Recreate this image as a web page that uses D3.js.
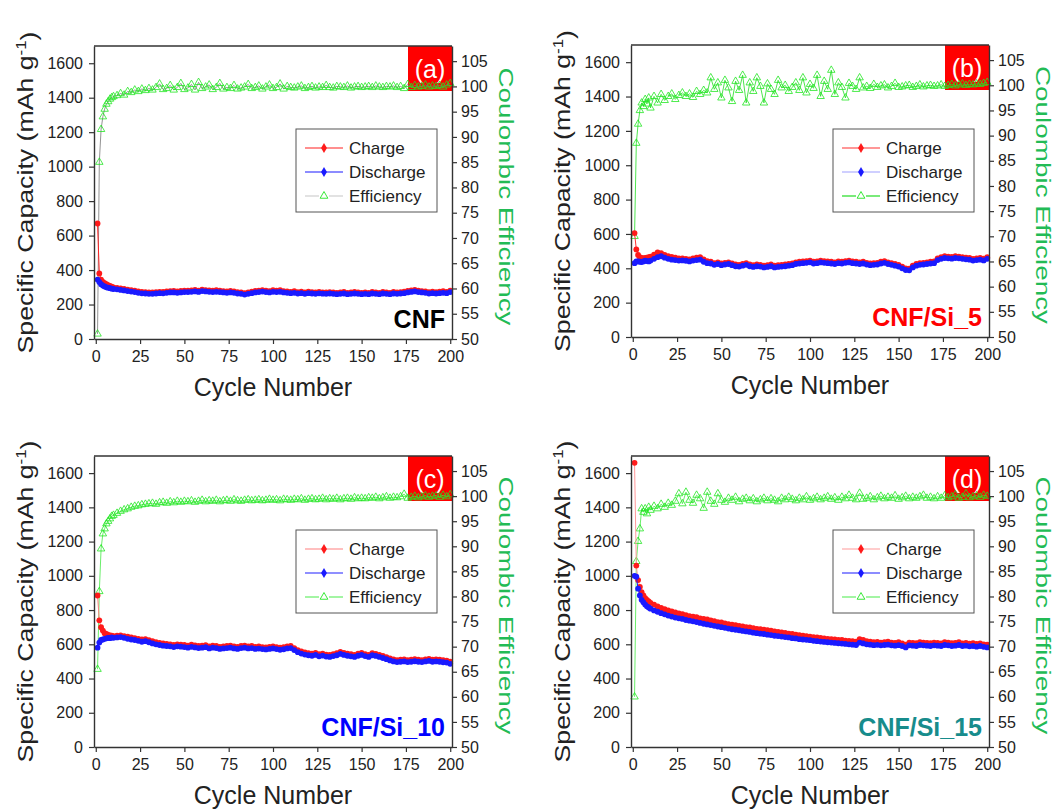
<!DOCTYPE html>
<html>
<head>
<meta charset="utf-8">
<script src="https://cdn.jsdelivr.net/npm/d3@7"></script>
<style>
  body { margin: 0; background: #fff; }
  svg text { font-family: 'Liberation Sans', Arial, sans-serif; }
</style>
</head>
<body>
<svg id="chart" width="1056" height="812"></svg>
<script>
// cycle numbers (every cycle up to 10, then every second cycle)
var cycles = [1,2,3,4,5,6,7,8,9,10,
  12,14,16,18,20,22,24,26,28,30, 32,34,36,38,40,42,44,46,48,50,
  52,54,56,58,60,62,64,66,68,70, 72,74,76,78,80,82,84,86,88,90,
  92,94,96,98,100,102,104,106,108,110, 112,114,116,118,120,122,124,126,128,130,
  132,134,136,138,140,142,144,146,148,150, 152,154,156,158,160,162,164,166,168,170,
  172,174,176,178,180,182,184,186,188,190, 192,194,196,198,200];

var capTicks = [0,200,400,600,800,1000,1200,1400,1600];
var effTicks = [50,55,60,65,70,75,80,85,90,95,100,105];
var cycleTicks = [0,25,50,75,100,125,150,175,200];
var legendLabels = ["Charge", "Discharge", "Efficiency"];

// (a) CNF
var chargeA = [670,380,345,332,324,318,312,308,304,300,
  297,294,290,286,283,280,276,273,272,270, 270,272,274,273,276,278,279,276,279,281,
  280,282,285,281,287,284,282,280,283,280, 278,276,279,276,272,270,266,270,275,279,
  281,284,280,278,283,280,283,278,276,274, 277,272,275,270,275,272,270,274,271,270,
  272,270,268,270,273,268,270,273,270,268, 270,268,273,270,268,273,270,268,273,270,
  272,275,279,282,285,281,278,276,272,275, 272,275,277,274,281];
var dischargeA = [345,330,318,310,305,300,298,295,292,290,
  288,285,282,278,275,272,268,265,264,262, 262,264,266,265,268,270,270,268,270,272,
  272,274,276,273,278,276,274,272,274,272, 270,268,270,268,264,262,258,262,266,270,
  272,275,272,270,274,272,274,270,268,266, 268,264,266,262,266,264,262,265,263,262,
  264,262,260,262,264,260,262,264,262,260, 262,260,264,262,260,264,262,260,264,262,
  264,266,270,273,276,272,270,268,264,266, 264,266,268,266,272];
var effA = [51,85,91.5,94,95.5,96.5,97,97.5,97.8,98,
  98.2,98.6,98.3,99,98.8,99.3,99,99.5,99.2,99.6, 99.3,99.8,100.5,99.4,99.6,100.2,99.3,99.8,100.6,99.4,
  99.7,100.4,99.3,100.8,99.6,99.9,100.3,99.4,99.8,100.6, 99.5,99.8,99.6,100.2,99.5,99.7,99.9,100.4,99.6,99.8,
  100.1,99.5,99.9,100.3,99.6,99.8,100.5,99.5,100,99.8, 99.7,99.9,100.1,99.6,99.8,100,99.7,99.9,99.8,100.2,
  99.8,99.7,100,99.9,99.8,100.1,99.7,99.9,100,99.8, 99.9,100,99.8,100.1,99.9,99.8,100,99.9,100.1,99.8,
  100,99.6,100.4,99.8,100.2,99.9,100,100.3,99.9,100.1, 100,100.2,99.9,100.3,100.6];

// (b) CNF/Si_5
var chargeB = [605,510,478,465,460,458,460,462,465,468,
  480,492,488,478,470,466,462,458,458,455, 452,458,462,465,452,442,438,430,435,428,
  432,435,428,422,420,425,430,422,418,422, 420,415,418,422,415,418,420,422,425,428,
  435,438,440,442,445,438,440,444,442,440, 438,435,440,438,442,444,440,438,435,438,
  432,428,430,432,438,442,435,430,425,420, 410,400,398,415,425,430,432,435,438,440,
  458,465,470,468,466,470,468,465,462,460, 455,458,460,456,465];
var dischargeB = [430,440,440,438,436,440,445,442,440,445,
  455,465,470,462,455,450,448,445,446,444, 440,445,448,450,438,430,428,420,425,418,
  422,425,418,412,410,415,420,412,408,412, 410,405,408,412,405,408,410,412,415,418,
  425,428,430,432,435,428,430,434,432,430, 428,425,430,428,432,434,430,428,425,428,
  422,418,420,422,428,432,425,420,415,410, 400,390,388,405,415,420,422,425,428,430,
  448,455,460,458,456,460,458,455,452,450, 445,448,450,446,455];
var effB = [70,88.5,92.3,95,96.5,95.8,97.2,96.3,97.5,95.5,
  97.8,96.5,98.2,97,97.8,98.3,97.2,98,98.5,97.8, 98.3,97.6,98.8,98.2,99,98.5,101.5,99.2,100.5,97.5,
  101,99.5,96.8,100.8,99,102,96.5,100.5,98.8,101.5, 99.8,96.5,100.3,99.2,98.2,101,99.5,100,98.8,99.6,
  100.5,99,101.5,98.5,100.2,99.4,102,97.8,100.8,99.2, 103,98.2,100.5,99.6,97.5,100.4,99.8,99.2,101.5,99.5,
  99.8,99.4,100.2,99.6,99.9,100.1,99.5,99.8,100.4,99.6, 99.7,99.9,100,99.6,99.8,100.1,99.7,99.9,100,99.8,
  99.9,100.1,99.8,100,100.2,99.9,100.1,100.3,100,100.2, 100.1,100.3,100.2,100.4,100.6];

// (c) CNF/Si_10
var chargeC = [885,740,700,680,665,660,655,652,650,648,
  650,652,648,645,640,636,632,628,630,624, 618,612,608,605,602,600,596,600,598,596,
  592,598,594,590,592,595,588,592,590,585, 588,590,592,588,585,590,592,588,590,585,
  588,584,582,585,588,584,580,583,588,590, 578,566,558,552,548,545,550,542,546,540,
  538,543,548,556,550,545,542,538,545,550, 543,538,548,544,538,532,525,518,512,508,
  510,512,508,510,513,510,508,512,515,510, 512,510,507,505,498];
var dischargeC = [580,610,625,628,632,635,638,636,640,638,
  640,642,638,632,628,625,620,615,618,612, 605,600,596,592,590,588,584,588,586,584,
  580,585,582,578,580,583,576,580,578,573, 576,578,580,576,573,578,580,576,578,573,
  575,572,570,573,576,572,568,571,576,578, 566,554,546,540,536,533,538,530,534,528,
  526,531,536,544,538,533,530,526,533,538, 531,526,536,532,526,520,513,506,500,496,
  498,500,496,498,501,498,496,500,503,498, 500,498,495,493,486];
var effC = [65.5,81,89.5,92.5,93.5,94.5,95,95.5,96,96.2,
  96.6,97,97.3,97.5,97.8,98,98.1,98.3,98.4,98.5, 98.6,98.4,98.7,98.8,98.6,98.9,98.7,99,98.8,99,
  98.9,99.1,98.8,99,99.2,98.9,99.1,99,99.2,98.9, 99.1,99.2,99,99.3,99.1,99,99.2,99.3,99.1,99.2,
  99.3,99.1,99.2,99.4,99.2,99.3,99.1,99.4,99.3,99.2, 99.4,99.3,99.5,99.2,99.4,99.5,99.3,99.4,99.6,99.3,
  99.5,99.4,99.6,99.3,99.5,99.6,99.4,99.7,99.5,99.6, 99.5,99.7,99.6,99.8,99.5,99.7,99.9,99.6,99.8,99.7,
  99.9,100.4,99.6,99.8,100,99.7,99.9,100.1,99.8,100, 100.1,99.8,100.2,99.9,100.3];

// (d) CNF/Si_15
var chargeD = [1660,1060,975,935,905,885,870,860,850,842,
  832,822,812,805,798,792,786,780,776,770, 765,762,758,752,748,745,740,735,730,728,
  722,718,715,712,708,705,700,698,695,690, 688,685,682,680,676,672,670,666,662,660,
  656,654,650,648,645,642,640,638,635,632, 630,628,626,625,622,620,618,615,630,625,
  618,615,612,614,610,612,615,610,608,612, 605,598,610,608,606,612,610,608,606,610,
  608,605,612,610,606,608,612,605,608,604, 606,602,605,600,598];
var dischargeD = [1000,995,925,885,860,845,832,822,815,808,
  798,790,782,775,768,762,756,752,748,742, 738,734,730,725,720,716,712,708,704,700,
  696,692,688,685,682,678,675,672,668,665, 662,660,656,654,650,648,645,642,640,636,
  634,630,628,626,624,620,618,616,614,612, 610,608,606,604,602,600,598,596,610,605,
  600,598,595,597,594,596,598,594,592,595, 590,582,594,592,590,596,594,592,590,594,
  592,590,596,594,590,592,596,590,592,588, 590,586,590,585,582];
var effD = [60,87,91,93.5,97.5,96.8,97.5,96.5,97.8,97.2,
  98,97.5,98.4,97.8,98.6,98.2,99,100.5,98.5,100.8, 99.2,98.6,100.2,99.5,97.6,100.8,99,98.4,100.5,99.2,
  98.8,99.6,99.2,99.8,98.9,99.4,99.6,99.1,99.5,98.9, 99.3,99.6,99.1,99.5,99.2,98.9,99.6,99.3,99.8,99.4,
  99.1,99.6,99.3,99.9,99.2,99.5,99.8,99.3,99.6,99.9, 99.4,99.7,99.2,99.8,99.5,100.2,99.6,99.3,100.6,99.4,
  99.6,99.9,99.3,99.7,100,99.5,99.8,99.6,100.1,99.4, 99.7,100,99.5,99.8,99.6,99.9,100.2,99.6,99.8,99.5,
  99.9,99.6,100.1,99.7,99.9,100.3,99.6,99.8,100.5,99.7, 99.9,100.1,99.8,100.2,100];

var panels = [
  { tag: "(a)", name: "CNF", nameColor: "#000", left: 94, top: 46, right: 452, bottom: 339, legendTop: 83,
    charge: chargeA, discharge: dischargeA, eff: effA,
    chargeLine: "#ff2020", dischargeLine: "#1a1aff", effLine: "#777", legendEffLine: "#cfcfcf" },
  { tag: "(b)", name: "CNF/Si_5", nameColor: "#ff0000", left: 631, top: 45, right: 989, bottom: 337, legendTop: 84,
    charge: chargeB, discharge: dischargeB, eff: effB,
    chargeLine: "#ff3030", dischargeLine: "#a0a0ff", effLine: "#22dd22", legendEffLine: "#22dd22" },
  { tag: "(c)", name: "CNF/Si_10", nameColor: "#0000ff", left: 94, top: 456, right: 452, bottom: 747, legendTop: 74,
    charge: chargeC, discharge: dischargeC, eff: effC,
    chargeLine: "#ff8080", dischargeLine: "#2020ff", effLine: "#44e844", legendEffLine: "#66ee66" },
  { tag: "(d)", name: "CNF/Si_15", nameColor: "#178c8c", left: 631, top: 456, right: 989, bottom: 747, legendTop: 74,
    charge: chargeD, discharge: dischargeD, eff: effD,
    chargeLine: "#ff9999", dischargeLine: "#1a1aff", effLine: "#44e844", legendEffLine: "#66ee66" }
];

var RED = "#ff1a1a", BLUE = "#1a1aff", GREEN = "#22e622", AXIS = "#333";
var svg = d3.select("#chart");
svg.append("rect").attr("width", 1056).attr("height", 812).attr("fill", "#fff");

function series(vals) {
  return cycles.map(function(c, i) { return { c: c, v: vals[i] }; })
               .filter(function(d) { return d.v != null; });
}

function styleAxis(g) {
  g.select(".domain").attr("stroke", AXIS).attr("stroke-width", 1.4);
  g.selectAll(".tick line").attr("stroke", AXIS).attr("stroke-width", 1.2);
  g.selectAll(".tick text").attr("fill", "#222").attr("font-size", 16)
    .style("font-family", "'Liberation Sans', Arial, sans-serif");
}

function drawPanel(p) {
  var g = svg.append("g");
  var x = d3.scaleLinear().domain([-1, 201]).range([p.left, p.right]);
  var yL = d3.scaleLinear().domain([0, 1700]).range([p.bottom, p.top]);
  var yR = d3.scaleLinear().domain([50, 108]).range([p.bottom, p.top]);

  // red tag box
  g.append("rect").attr("x", p.right - 44).attr("y", p.top).attr("width", 44).attr("height", 45).attr("fill", "#ff0000");
  g.append("text").attr("x", p.right - 22).attr("y", p.top + 32).attr("text-anchor", "middle")
    .attr("fill", "#fff").attr("font-size", 25).text(p.tag);

  // efficiency
  var eff = series(p.eff);
  g.append("path").datum(eff).attr("fill", "none").attr("stroke", p.effLine).attr("stroke-width", 0.8)
    .attr("d", d3.line().x(function(d) { return x(d.c); }).y(function(d) { return yR(d.v); }));
  var tri = d3.symbol().type(d3.symbolTriangle).size(24);
  g.append("g").selectAll("path").data(eff).enter().append("path")
    .attr("d", tri).attr("transform", function(d) { return "translate(" + x(d.c) + "," + yR(d.v) + ")"; })
    .attr("fill", "none").attr("stroke", GREEN).attr("stroke-width", 0.8);

  // charge / discharge
  [[p.charge, p.chargeLine, RED], [p.discharge, p.dischargeLine, BLUE]].forEach(function(s) {
    var data = series(s[0]);
    g.append("path").datum(data).attr("fill", "none").attr("stroke", s[1]).attr("stroke-width", 1)
      .attr("d", d3.line().x(function(d) { return x(d.c); }).y(function(d) { return yL(d.v); }));
    g.append("g").selectAll("circle").data(data).enter().append("circle")
      .attr("cx", function(d) { return x(d.c); }).attr("cy", function(d) { return yL(d.v); })
      .attr("r", 2.9).attr("fill", s[2]);
  });

  // axes
  var ax = g.append("g").attr("transform", "translate(0," + p.bottom + ")")
    .call(d3.axisBottom(x).tickValues(cycleTicks).tickSize(5).tickSizeOuter(0).tickPadding(7));
  styleAxis(ax);
  var ayl = g.append("g").attr("transform", "translate(" + p.left + ",0)")
    .call(d3.axisLeft(yL).tickValues(capTicks).tickFormat(d3.format("d")).tickSize(5).tickSizeOuter(0).tickPadding(6));
  styleAxis(ayl);
  var ayr = g.append("g").attr("transform", "translate(" + p.right + ",0)")
    .call(d3.axisRight(yR).tickValues(effTicks).tickSize(5).tickSizeOuter(0).tickPadding(4));
  styleAxis(ayr);
  g.append("line").attr("x1", p.left).attr("x2", p.right).attr("y1", p.top).attr("y2", p.top)
    .attr("stroke", AXIS).attr("stroke-width", 1.4);

  // axis titles
  g.append("text").attr("x", (p.left + p.right) / 2).attr("y", p.bottom + 57).attr("text-anchor", "middle")
    .attr("font-size", 25).attr("fill", "#222").text("Cycle Number");
  var yt = g.append("text").attr("transform", "translate(" + (p.left - 69) + "," + ((p.top + p.bottom) / 2) + ") rotate(-90)")
    .attr("text-anchor", "middle").attr("dy", "0.35em").attr("font-size", 22).attr("fill", "#222")
    .attr("textLength", 322).attr("lengthAdjust", "spacingAndGlyphs");
  yt.append("tspan").text("Specific Capacity (mAh g");
  yt.append("tspan").attr("dy", "-0.45em").attr("font-size", 14).text("-1");
  yt.append("tspan").attr("dy", "0.45em").text(")");
  g.append("text").attr("transform", "translate(" + (p.right + 54) + "," + ((p.top + p.bottom) / 2 + 4) + ") rotate(90)")
    .attr("text-anchor", "middle").attr("dy", "0.35em").attr("font-size", 21).attr("fill", "#22bb55")
    .attr("textLength", 258).attr("lengthAdjust", "spacingAndGlyphs").text("Coulombic Efficiency");

  // sample name
  g.append("text").attr("x", p.right - 7).attr("y", p.bottom - 11).attr("text-anchor", "end")
    .attr("font-size", 25).attr("font-weight", "bold").attr("fill", p.nameColor).text(p.name);

  // legend
  var lx = p.left + 202, ly = p.top + p.legendTop;
  var lg = g.append("g");
  lg.append("rect").attr("x", lx).attr("y", ly).attr("width", 141).attr("height", 83)
    .attr("fill", "#fff").attr("stroke", "#555").attr("stroke-width", 1);
  legendLabels.forEach(function(lab, i) {
    var cy = ly + 19 + i * 24;
    if (i < 2) {
      lg.append("line").attr("x1", lx + 9).attr("x2", lx + 47).attr("y1", cy).attr("y2", cy)
        .attr("stroke", i == 0 ? p.chargeLine : p.dischargeLine).attr("stroke-width", 1.2);
      lg.append("path").attr("d", d3.symbol().type(d3.symbolDiamond).size(30))
        .attr("transform", "translate(" + (lx + 28) + "," + cy + ")").attr("fill", i == 0 ? RED : BLUE);
    } else {
      lg.append("line").attr("x1", lx + 9).attr("x2", lx + 23).attr("y1", cy).attr("y2", cy)
        .attr("stroke", p.legendEffLine).attr("stroke-width", 1.2);
      lg.append("line").attr("x1", lx + 33).attr("x2", lx + 47).attr("y1", cy).attr("y2", cy)
        .attr("stroke", p.legendEffLine).attr("stroke-width", 1.2);
      lg.append("path").attr("d", d3.symbol().type(d3.symbolTriangle).size(26))
        .attr("transform", "translate(" + (lx + 28) + "," + cy + ")")
        .attr("fill", "none").attr("stroke", GREEN).attr("stroke-width", 0.9);
    }
    lg.append("text").attr("x", lx + 53).attr("y", cy).attr("dy", "0.36em").attr("font-size", 17)
      .attr("fill", "#222").text(lab);
  });
}

panels.forEach(drawPanel);
</script>
</body>
</html>
